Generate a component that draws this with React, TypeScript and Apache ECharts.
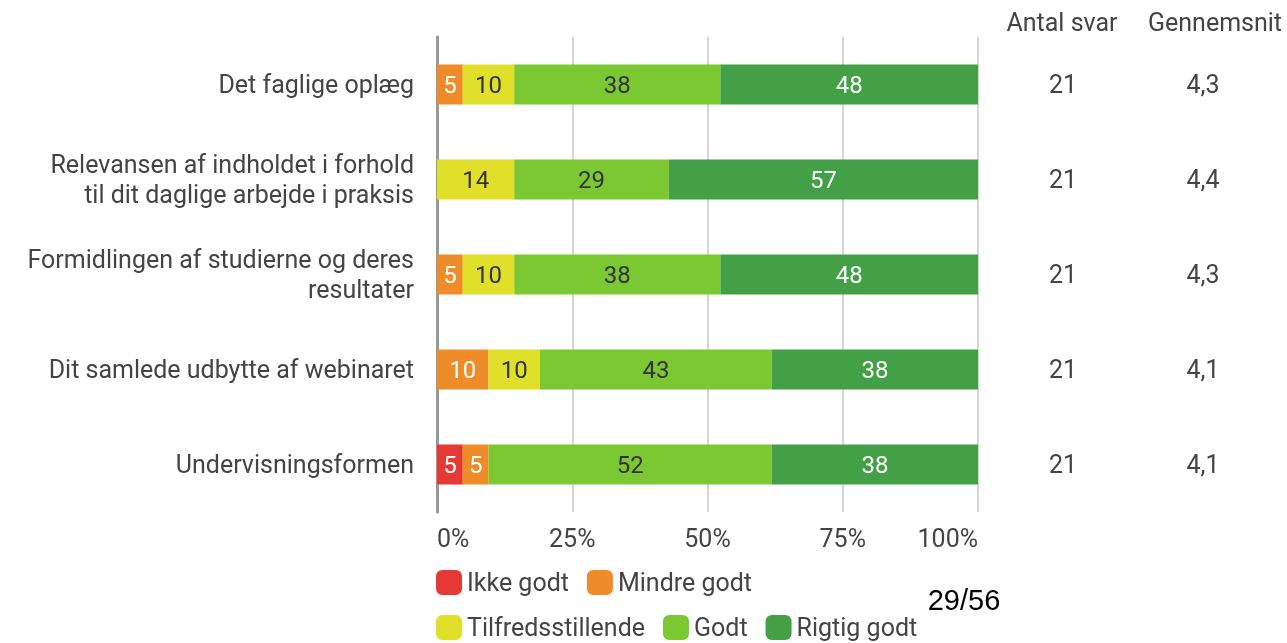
import React, { useEffect, useRef } from "react";
import * as echarts from "echarts";

const categories = [
  "Det faglige oplæg",
  "Relevansen af indholdet i forhold\ntil dit daglige arbejde i praksis",
  "Formidlingen af studierne og deres\nresultater",
  "Dit samlede udbytte af webinaret",
  "Undervisningsformen",
];

const seriesNames = ["Ikke godt", "Mindre godt", "Tilfredsstillende", "Godt", "Rigtig godt"];
const ikkeGodt = [0, 0, 0, 0, 4.76];
const mindreGodt = [4.76, 0, 4.76, 9.52, 4.76];
const tilfreds = [9.52, 14.29, 9.52, 9.52, 0];
const godt = [38.1, 28.57, 38.1, 42.86, 52.38];
const rigtigGodt = [47.62, 57.14, 47.62, 38.1, 38.1];
const antalSvar = [21, 21, 21, 21, 21];
const gennemsnit = ["4,3", "4,4", "4,3", "4,1", "4,1"];
const xTicks = ["0%", "25%", "50%", "75%", "100%"];

const colors = ["#e53935", "#ef8c2a", "#e0e02a", "#7cc832", "#43a047"];
const labelColors = ["#ffffff", "#ffffff", "#333333", "#333333", "#ffffff"];
const FONT = "Roboto";
const FS = 25;

export default function App() {
  const ref = useRef<HTMLDivElement>(null);
  useEffect(() => {
    document.body.style.margin = "0";
    const chart = echarts.init(ref.current!, null, { renderer: "svg" });
    const datasets = [ikkeGodt, mindreGodt, tilfreds, godt, rigtigGodt];
    const legendBase = {
      left: 436,
      padding: 0,
      icon: "roundRect",
      itemWidth: 26,
      itemHeight: 25,
      itemGap: 18,
      textStyle: { fontSize: FS, color: "#444", fontFamily: FONT },
    };
    const option: any = {
      animation: false,
      textStyle: { fontFamily: FONT },
      grid: { left: 437, right: 309, top: 37, bottom: 131 },
      xAxis: {
        type: "value",
        min: 0,
        max: 100,
        interval: 25,
        axisLine: { show: false },
        axisTick: { show: false },
        splitLine: { show: true, lineStyle: { color: "#c8c8c8", width: 1.5 } },
        axisLabel: {
          fontSize: FS,
          color: "#444",
          fontFamily: FONT,
          margin: 14,
          alignMinLabel: "left",
          alignMaxLabel: "right",
          formatter: (v: number) => xTicks[Math.round(v / 25)],
        },
      },
      yAxis: [
        {
          type: "category",
          data: categories,
          inverse: true,
          axisLine: { show: true, lineStyle: { color: "#999", width: 3 } },
          axisTick: { show: false },
          axisLabel: {
            fontSize: FS,
            color: "#444",
            fontFamily: FONT,
            margin: 23,
            lineHeight: 30,
            align: "right",
          },
        },
        {
          type: "category",
          data: categories.map((_, i) => i),
          inverse: true,
          position: "right",
          axisLine: { show: false },
          axisTick: { show: false },
          axisLabel: {
            margin: 0,
            formatter: (v: string) => {
              const i = Number(v);
              return `{a|${antalSvar[i]}}{b|${gennemsnit[i]}}`;
            },
            rich: {
              a: { width: 170, align: "center", fontSize: FS, color: "#444", fontFamily: FONT },
              b: { width: 110, align: "center", fontSize: FS, color: "#444", fontFamily: FONT },
            },
          },
        },
      ],
      legend: [
        { ...legendBase, data: seriesNames.slice(0, 2), top: 570 },
        { ...legendBase, data: seriesNames.slice(2), top: 615 },
      ],
      graphic: [
        {
          type: "text",
          x: 1062,
          y: 22,
          style: {
            text: "Antal svar",
            fontSize: FS,
            fill: "#444",
            fontFamily: FONT,
            textAlign: "center",
            textVerticalAlign: "middle",
          },
        },
        {
          type: "text",
          x: 1148,
          y: 22,
          style: {
            text: "Gennemsnit",
            fontSize: FS,
            fill: "#444",
            fontFamily: FONT,
            textAlign: "left",
            textVerticalAlign: "middle",
          },
        },
        {
          type: "text",
          x: 964,
          y: 600,
          style: {
            text: "29/56",
            fontSize: 29,
            fill: "#000",
            fontFamily: "Liberation Sans",
            textAlign: "center",
            textVerticalAlign: "middle",
          },
        },
      ],
      series: seriesNames.map((name, si) => ({
        name,
        type: "bar",
        stack: "total",
        barWidth: 40,
        yAxisIndex: 0,
        itemStyle: { color: colors[si] },
        label: {
          show: true,
          position: "inside",
          fontSize: 24,
          fontFamily: FONT,
          color: labelColors[si],
          formatter: (p: any) => (p.value > 0 ? String(Math.round(p.value)) : ""),
        },
        data: datasets[si],
      })),
    };
    chart.setOption(option);
    return () => chart.dispose();
  }, []);
  return (
    <div
      ref={ref}
      style={{ position: "fixed", left: 0, top: 0, width: 1287, height: 643 }}
    />
  );
}
